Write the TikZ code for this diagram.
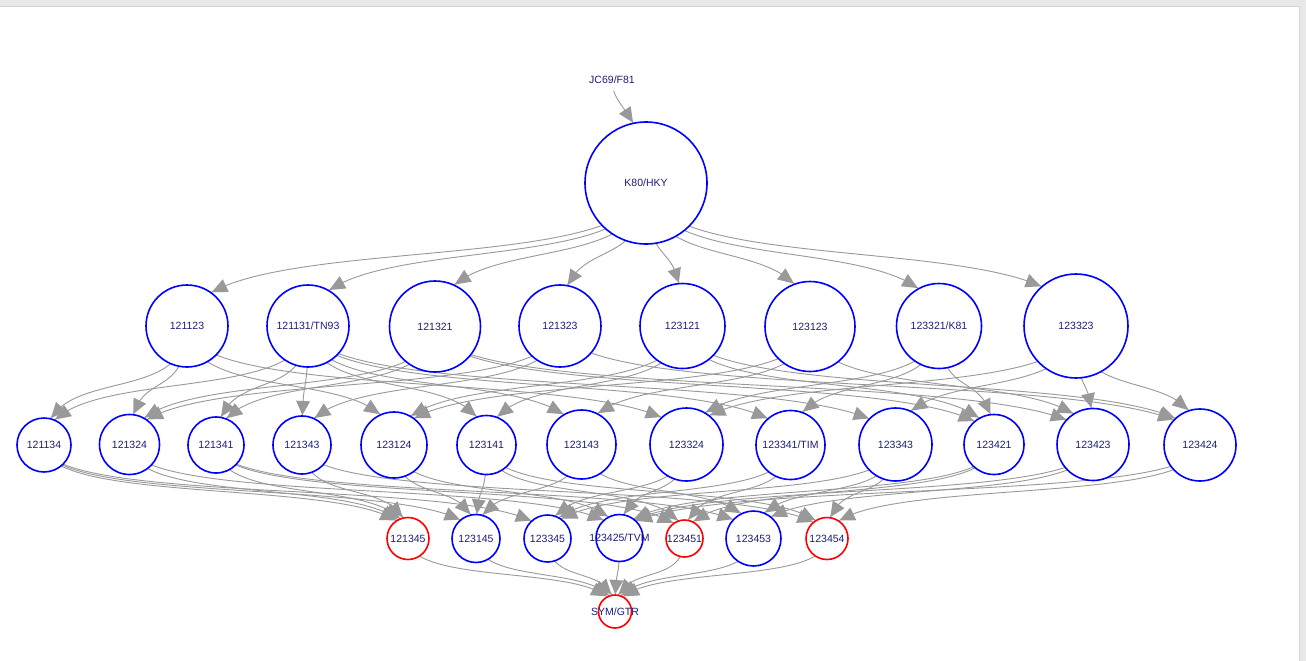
\documentclass[tikz,border=0pt]{standalone}
\usepackage{fontspec}
\setmainfont{Liberation Sans}
\usetikzlibrary{calc,intersections}

\definecolor{edgegray}{HTML}{999999}
\definecolor{ringblue}{HTML}{0000FF}
\definecolor{ringred}{HTML}{FF0000}
\definecolor{labelnavy}{HTML}{1E1E78}
\definecolor{framegray}{HTML}{E8E8E8}
\definecolor{frameline}{HTML}{D6D6D6}

\pgfdeclarelayer{backdrop}
\pgfdeclarelayer{edgelayer}
\pgfsetlayers{backdrop,edgelayer,main}

\tikzset{
  model/.style={circle, line width=1.6pt, fill=white, inner sep=0pt, outer sep=0pt},
  bluemodel/.style={model, draw=ringblue},
  redmodel/.style={model, draw=ringred},
  plainmodel/.style={circle, fill=white, inner sep=0pt, outer sep=0pt},
  modeltext/.style={text=labelnavy, font=\fontsize{10.5}{12}\selectfont, inner sep=0pt},
  edgeline/.style={draw=edgegray, line width=0.9pt},
  arrowfill/.style={fill=edgegray},
}

% \model[style]{name}{x}{y}{radius}{label}
\newcommand\model[6][bluemodel]{%
  \expandafter\xdef\csname rad@#2\endcsname{#5}%
  \node[#1, minimum size={2*#5pt}] (#2) at (#3,#4) {};
  \node[modeltext] (#2-text) at (#2.center) {#6};
}

% \link{from}{to}{lead}{trail}: vertical cubic between the two centres,
% arrowhead placed where the curve meets the rim of the target
\newcommand\link[4]{%
  \edef\rimr{\csname rad@#2\endcsname}%
  \coordinate (q1) at ($(#1.center)!#3!(#2.center)$);
  \coordinate (q2) at ($(#2.center)!#4!(#1.center)$);
  \draw[edgeline, name path=crv] (#1.center) .. controls (#1.center |- q1) and (#2.center |- q2) .. (#2.center);
  \path[name path=rima] (#2.center) circle[radius={\rimr pt+0.8pt}];
  \path[name path=rimb] (#2.center) circle[radius={\rimr pt+15pt}];
  \path[name intersections={of=crv and rima, by=tipp}];
  \path[name intersections={of=crv and rimb, by=basep}];
  \fill[arrowfill] (tipp) -- ($(basep)!7pt!90:(tipp)$) -- ($(basep)!7pt!-90:(tipp)$) -- cycle;
}

\begin{document}
\begin{tikzpicture}[x=1pt, y=-1pt]
\useasboundingbox (0,0) rectangle (1306,661);

% page backdrop with its grey frame
\begin{pgfonlayer}{backdrop}
  \fill[white] (0,0) rectangle (1306,661);
  \fill[framegray] (0,0) rectangle (1306,6.5);
  \fill[framegray] (1299,0) rectangle (1306,661);
  \draw[frameline, line width=0.6pt] (0,6.5) -- (1299,6.5) -- (1299,661);
\end{pgfonlayer}

% models, top to bottom
\model[plainmodel]{n0}{612}{80}{11}{JC69/F81}
\model{n1}{646}{183}{61}{K80/HKY}

\model{a1}{187}{326}{41}{121123}
\model{a2}{308}{326}{41}{121131/TN93}
\model{a3}{435}{326.5}{45.5}{121321}
\model{a4}{560}{326}{41}{121323}
\model{a5}{682.5}{326}{42.5}{123121}
\model{a6}{810}{326.5}{45}{123123}
\model{a7}{939}{326}{42.5}{123321/K81}
\model{a8}{1076}{326}{52}{123323}

\model{b1}{44}{445}{27}{121134}
\model{b2}{129.5}{444.5}{30}{121324}
\model{b3}{216}{445}{28}{121341}
\model{b4}{302}{445}{29}{121343}
\model{b5}{394}{445}{33}{123124}
\model{b6}{486.5}{445}{29.5}{123141}
\model{b7}{581.5}{444.5}{34.5}{123143}
\model{b8}{686.5}{444.5}{36.5}{123324}
\model{b9}{790.5}{445}{34.5}{123341/TIM}
\model{b10}{895.5}{444.5}{36.5}{123343}
\model{b11}{994}{444.5}{30}{123421}
\model{b12}{1093}{444.5}{36}{123423}
\model{b13}{1200}{445}{36}{123424}

\model[redmodel]{c1}{408}{538.5}{21}{121345}
\model{c2}{476}{538.5}{24}{123145}
\model{c3}{547.5}{538.5}{23.5}{123345}
\model{c4}{619.5}{538}{23.5}{123425/TVM}
\model[redmodel]{c5}{684.5}{538.5}{18.5}{123451}
\model{c6}{753.5}{538.5}{27.5}{123453}
\model[redmodel]{c7}{827}{538.5}{21}{123454}

\model[redmodel]{g}{615}{611.5}{16.5}{SYM/GTR}

% nesting relations, drawn beneath the models
\begin{pgfonlayer}{edgelayer}
  \link{n0}{n1}{0.3}{0.7}
  \foreach \t in {a1,a2,a3,a4,a5,a6,a7,a8} {\link{n1}{\t}{0.7}{0.7}}
  \foreach \s/\t in {a1/b1,a1/b2,a1/b5,a1/b8,
                     a2/b1,a2/b3,a2/b4,a2/b6,a2/b7,a2/b9,a2/b10,
                     a3/b2,a3/b3,a3/b11,a3/b12,
                     a4/b2,a4/b4,a4/b13,
                     a5/b5,a5/b6,a5/b11,a5/b13,
                     a6/b5,a6/b7,a6/b12,
                     a7/b8,a7/b9,a7/b11,
                     a8/b8,a8/b10,a8/b12,a8/b13} {\link{\s}{\t}{0.7}{0.7}}
  \foreach \s/\t in {b1/c1,b1/c2,b1/c3,
                     b2/c1,b2/c4,
                     b3/c1,b3/c5,b3/c6,
                     b4/c1,b4/c7,
                     b5/c2,b5/c4,
                     b6/c2,b6/c5,b6/c7,
                     b7/c2,b7/c6,
                     b8/c3,b8/c4,
                     b9/c3,b9/c5,
                     b10/c3,b10/c6,b10/c7,
                     b11/c4,b11/c5,
                     b12/c4,b12/c6,
                     b13/c4,b13/c7} {\link{\s}{\t}{0.7}{0.7}}
  \foreach \s in {c1,c2,c3,c4,c5,c6,c7} {\link{\s}{g}{0.7}{0.7}}
\end{pgfonlayer}
\end{tikzpicture}
\end{document}
